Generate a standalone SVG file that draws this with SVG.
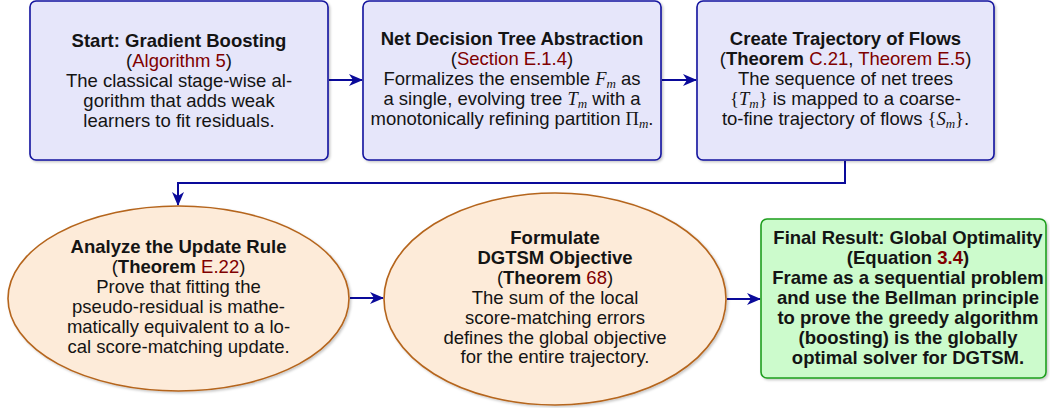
<svg xmlns="http://www.w3.org/2000/svg" width="1050" height="408" viewBox="0 0 1050 408">
<style>
text{font-family:"Liberation Sans",Arial,sans-serif;font-size:18.5px;fill:#141414;text-anchor:middle}
.b{font-weight:bold}
.r{fill:#800000;font-weight:normal}
.rb{fill:#800000}
.m{font-family:"Liberation Serif","Times New Roman",serif;font-style:italic;font-size:18.5px}
.mu{font-family:"Liberation Serif","Times New Roman",serif;font-size:18.5px}
.s{font-family:"Liberation Serif","Times New Roman",serif;font-style:italic;font-size:13px;baseline-shift:-2.5px}
.box{fill:#E6E6FA;stroke:#12129E;stroke-width:1.6}
.ell{fill:#FDEBD9;stroke:#B5651D;stroke-width:1.6}
.fin{fill:#CCFBCC;stroke:#1E9E1E;stroke-width:1.6}
.c{fill:none;stroke:#0A0A9A;stroke-width:2}
</style>
<defs>
<filter id="sh" x="-5%" y="-5%" width="110%" height="115%">
<feDropShadow dx="1.5" dy="1.5" stdDeviation="1" flood-color="#000" flood-opacity="0.22"/>
</filter>
<marker id="ah" markerUnits="userSpaceOnUse" markerWidth="14" markerHeight="12" viewBox="0 0 14 12" refX="13" refY="6" orient="auto">
<path d="M0,0 L14,6 L0,12 L4,6 z" fill="#0A0A9A"/>
</marker>
</defs>

<g id="connectors">
<line class="c" x1="329" y1="80" x2="362" y2="80" marker-end="url(#ah)"/>
<line class="c" x1="662" y1="80" x2="696" y2="80" marker-end="url(#ah)"/>
<path class="c" d="M845,161 V183 H178 V205" marker-end="url(#ah)"/>
<line class="c" x1="350" y1="298" x2="383" y2="298" marker-end="url(#ah)"/>
<line class="c" x1="727" y1="299" x2="760" y2="299" marker-end="url(#ah)"/>
</g>

<g id="start">
<rect class="box" x="30" y="1" width="298" height="159" rx="6" filter="url(#sh)"/>
<text x="179" y="47" class="b">Start:  Gradient Boosting</text>
<text x="179" y="67">(<tspan class="r">Algorithm 5</tspan>)</text>
<text x="179" y="87">The classical stage-wise al-</text>
<text x="179" y="107">gorithm that adds weak</text>
<text x="179" y="127">learners to fit residuals.</text>
</g>

<g id="netTree">
<rect class="box" x="363" y="1" width="298" height="159" rx="6" filter="url(#sh)"/>
<text x="512" y="45" class="b">Net Decision Tree Abstraction</text>
<text x="512" y="65">(<tspan class="r">Section E.1.4</tspan>)</text>
<text x="512" y="85">Formalizes the ensemble <tspan class="m">F</tspan><tspan class="s">m</tspan> as</text>
<text x="512" y="105">a single, evolving tree <tspan class="m">T</tspan><tspan class="s">m</tspan> with a</text>
<text x="512" y="125">monotonically refining partition <tspan class="mu">Π</tspan><tspan class="s">m</tspan>.</text>
</g>

<g id="trajectory">
<rect class="box" x="697" y="1" width="297" height="159" rx="6" filter="url(#sh)"/>
<text x="845.5" y="45" class="b">Create Trajectory of Flows</text>
<text x="845.5" y="65">(<tspan class="b">Theorem</tspan> <tspan class="r">C.21</tspan>, <tspan class="r">Theorem E.5</tspan>)</text>
<text x="845.5" y="85">The sequence of net trees</text>
<text x="845.5" y="105"><tspan class="mu">{</tspan><tspan class="m">T</tspan><tspan class="s">m</tspan><tspan class="mu">}</tspan> is mapped to a coarse-</text>
<text x="845.5" y="125">to-fine trajectory of flows <tspan class="mu">{</tspan><tspan class="m">S</tspan><tspan class="s">m</tspan><tspan class="mu">}</tspan>.</text>
</g>

<g id="updateRule">
<ellipse class="ell" cx="178.5" cy="298.5" rx="170.5" ry="92.5" filter="url(#sh)"/>
<text x="178.5" y="253" class="b">Analyze the Update Rule</text>
<text x="178.5" y="273">(<tspan class="b">Theorem</tspan> <tspan class="r">E.22</tspan>)</text>
<text x="178.5" y="293">Prove that fitting the</text>
<text x="178.5" y="313">pseudo-residual is mathe-</text>
<text x="178.5" y="333">matically equivalent to a lo-</text>
<text x="178.5" y="353">cal score-matching update.</text>
</g>

<g id="objective">
<ellipse class="ell" cx="555" cy="299" rx="171" ry="106" filter="url(#sh)"/>
<text x="555" y="244" class="b">Formulate</text>
<text x="555" y="264" class="b">DGTSM Objective</text>
<text x="555" y="284">(<tspan class="b">Theorem</tspan> <tspan class="r">68</tspan>)</text>
<text x="555" y="304">The sum of the local</text>
<text x="555" y="324">score-matching errors</text>
<text x="555" y="344">defines the global objective</text>
<text x="555" y="363">for the entire trajectory.</text>
</g>

<g id="final">
<rect class="fin" x="761" y="219" width="285" height="159" rx="6" filter="url(#sh)"/>
<text x="908" y="244" class="b">Final Result:  Global Optimality</text>
<text x="908" y="264" class="b">(Equation <tspan class="rb">3.4</tspan>)</text>
<text x="908" y="284" class="b">Frame as a sequential problem</text>
<text x="908" y="304" class="b">and use the Bellman principle</text>
<text x="908" y="324" class="b">to prove the greedy algorithm</text>
<text x="908" y="344" class="b">(boosting) is the globally</text>
<text x="908" y="364" class="b">optimal solver for DGTSM.</text>
</g>
</svg>
